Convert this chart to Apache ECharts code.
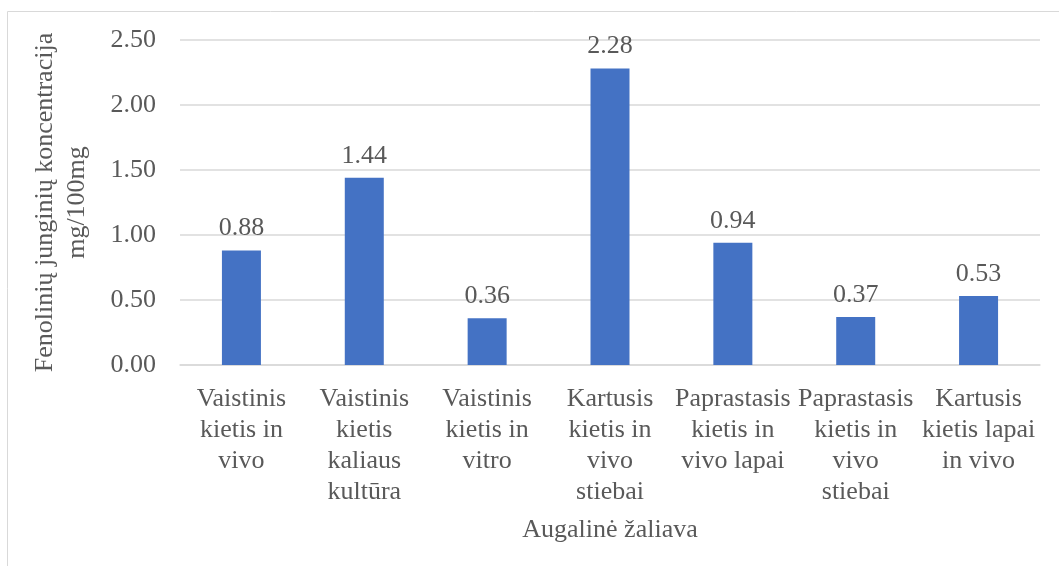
<!DOCTYPE html>
<html>
<head>
<meta charset="utf-8">
<script src="https://cdn.jsdelivr.net/npm/echarts@6/dist/echarts.min.js"></script>
<style>
  html, body { margin: 0; padding: 0; background: #fff; }
  #chart { width: 1059px; height: 566px; }
</style>
</head>
<body>
<div id="chart"></div>
<script>
let categories = [
  "Vaistinis\nkietis in\nvivo",
  "Vaistinis\nkietis\nkaliaus\nkultūra",
  "Vaistinis\nkietis in\nvitro",
  "Kartusis\nkietis in\nvivo\nstiebai",
  "Paprastasis\nkietis in\nvivo lapai",
  "Paprastasis\nkietis in\nvivo\nstiebai",
  "Kartusis\nkietis lapai\nin vivo"
];
let values = [0.88, 1.44, 0.36, 2.28, 0.94, 0.37, 0.53];
let yTicks = [0, 0.5, 1, 1.5, 2, 2.5];

let textColor = "#595959";
let font = "'Liberation Serif', 'Times New Roman', serif";
let fs = 26;

var myChart = echarts.init(document.getElementById("chart"));
myChart.setOption({
  animation: false,
  textStyle: { fontFamily: font },
  grid: { left: 180, right: 19, top: 40, bottom: 201 },
  graphic: [
    { type: "line", shape: { x1: 7.5, y1: 11.5, x2: 1059, y2: 11.5 }, style: { stroke: "#d9d9d9", lineWidth: 1 } },
    { type: "line", shape: { x1: 7.5, y1: 11.5, x2: 7.5, y2: 566 }, style: { stroke: "#d9d9d9", lineWidth: 1 } }
  ],
  xAxis: {
    type: "category",
    data: categories,
    name: "Augalinė žaliava",
    nameLocation: "middle",
    nameGap: 152,
    nameTextStyle: { color: textColor, fontSize: fs, fontFamily: font },
    axisLine: { lineStyle: { color: "#d9d9d9", width: 1.5 } },
    axisTick: { show: false },
    axisLabel: {
      color: textColor,
      fontSize: fs,
      lineHeight: 31,
      fontFamily: font,
      margin: 19,
      interval: 0
    }
  },
  yAxis: {
    type: "value",
    min: yTicks[0],
    max: yTicks[yTicks.length - 1],
    interval: 0.5,
    name: "Fenolinių junginių koncentracija\nmg/100mg",
    nameLocation: "middle",
    nameRotate: 90,
    nameGap: 87,
    nameTextStyle: { color: textColor, fontSize: fs, lineHeight: 32, fontFamily: font },
    axisLabel: {
      color: textColor,
      fontSize: fs,
      fontFamily: font,
      margin: 24,
      formatter: function (v) { return v.toFixed(2); }
    },
    splitLine: { lineStyle: { color: "#d9d9d9", width: 1.5 } }
  },
  series: [
    {
      type: "bar",
      data: values,
      barWidth: 39,
      itemStyle: { color: "#4472C4" },
      label: {
        show: true,
        position: "top",
        distance: 9,
        color: textColor,
        fontSize: fs,
        fontFamily: font,
        formatter: function (p) { return p.value.toFixed(2); }
      }
    }
  ]
});
</script>
</body>
</html>
